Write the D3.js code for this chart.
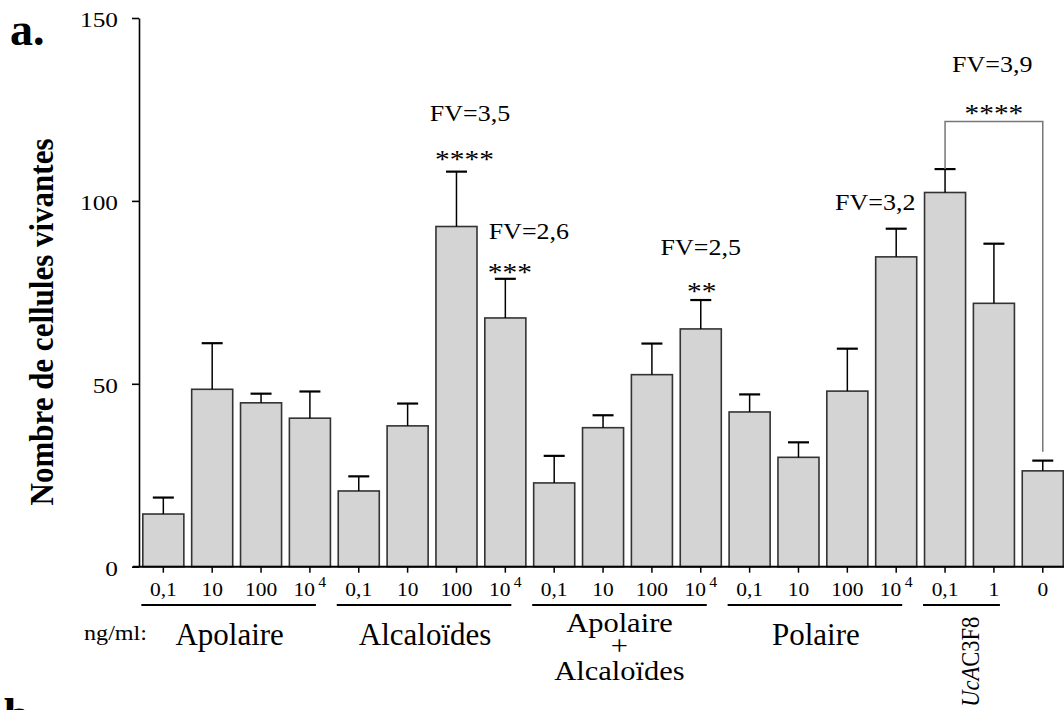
<!DOCTYPE html>
<html>
<head>
<meta charset="utf-8">
<script src="https://cdn.jsdelivr.net/npm/d3@7"></script>
<style>
  body { margin: 0; background: #fff; }
  svg { display: block; font-family: "Liberation Serif", "Times New Roman", serif; }
</style>
</head>
<body>
<svg id="chart" width="1064" height="710"></svg>
<script>
// values
const doses = ["0,1","10","100","10^4", "0,1","10","100","10^4", "0,1","10","100","10^4", "0,1","10","100","10^4", "0,1","1","0"];
const means = [14.4, 48.5, 44.8, 40.6, 20.7, 38.5, 93.0, 68.0, 22.9, 38.0, 52.5, 65.0, 42.3, 29.9, 48.0, 84.7, 102.3, 72.0, 26.2];
const sems  = [4.5, 12.6, 2.5, 7.3, 4.0, 6.1, 15.0, 10.7, 7.4, 3.4, 8.5, 7.9, 4.8, 4.1, 11.6, 7.7, 6.4, 16.3, 2.8];
const yTicks = [0, 50, 100, 150];

const groupNames = ["Apolaire", "Alcaloïdes", "Apolaire|+|Alcaloïdes", "Polaire", "UcAC3F8"];
const groupFirst = [0, 4, 8, 12, 16];
const groupLast  = [3, 7, 11, 15, 17];

const fvLabels   = ["FV=3,5", "FV=2,6", "FV=2,5", "FV=3,2", "FV=3,9"];
const starLabels = ["****", "***", "**", null, "****"];
const annotBars  = [6, 7, 11, 15, -1];   // -1 = the bracket 0,1 UcAC3F8 vs 0
const bracketBars = [16, 18];
const bracketTop = 121.7;
const bracketEnd = 31.4;

const svg = d3.select('#chart');
const FONT = '"Liberation Serif", "Times New Roman", serif';

const y = d3.scaleLinear().domain([0, 150]).range([566.7, 18]);
const x = d3.scaleBand()
    .domain(d3.range(doses.length))
    .range([138.9, 1067.2])
    .paddingInner(0.16)
    .paddingOuter(0.08);
const bw = x.bandwidth();
const cx = i => x(i) + bw / 2;

// text with the slight horizontal stretch seen in the figure
function stext(parent, px, py, str, size, sx, anchor) {
    return parent.append('text')
        .attr('transform', `translate(${px},${py}) scale(${sx},1)`)
        .attr('font-size', size)
        .attr('text-anchor', anchor || 'middle')
        .attr('fill', '#000')
        .text(str);
}

// y axis
const yAxisG = svg.append('g')
    .attr('transform', `translate(139,0)`)
    .call(d3.axisLeft(y).tickValues(yTicks).tickSize(7).tickPadding(14).tickSizeOuter(0))
    .attr('font-family', FONT)
    .attr('font-size', 22);
yAxisG.select('.domain').attr('stroke', '#000').attr('stroke-width', 1.6);
yAxisG.selectAll('.tick line').attr('stroke', '#000').attr('stroke-width', 1.6);
yAxisG.selectAll('.tick text').each(function () {
    const t = d3.select(this);
    const tx = +t.attr('x');
    t.attr('x', 0).attr('dy', '0.38em').attr('fill', '#000')
     .attr('transform', `translate(${tx},0) scale(1.15,1)`);
});

// bars
svg.append('g').selectAll('rect')
    .data(means)
    .enter()
    .append('rect')
        .attr('x', (d, i) => x(i))
        .attr('y', d => y(d))
        .attr('width', bw)
        .attr('height', d => y(0) - y(d))
        .attr('fill', '#d4d4d4')
        .attr('stroke', '#333')
        .attr('stroke-width', 1.6);

// error bars (upper only)
const eg = svg.append('g').attr('stroke', '#000');
means.forEach((m, i) => {
    eg.append('line')
        .attr('x1', cx(i)).attr('x2', cx(i))
        .attr('y1', y(m)).attr('y2', y(m + sems[i]))
        .attr('stroke-width', 1.5);
    eg.append('line')
        .attr('x1', cx(i) - 10.5).attr('x2', cx(i) + 10.5)
        .attr('y1', y(m + sems[i])).attr('y2', y(m + sems[i]))
        .attr('stroke-width', 2.2);
});

// x axis
const xAxisG = svg.append('g')
    .attr('transform', `translate(0,${y(0)})`)
    .call(d3.axisBottom(x).tickSize(6).tickFormat(''));
xAxisG.select('.domain').remove();
xAxisG.selectAll('.tick line').attr('stroke', '#000').attr('stroke-width', 1.5);
xAxisG.append('line')
    .attr('x1', x.range()[0] - 6).attr('x2', 1064)
    .attr('stroke', '#000').attr('stroke-width', 2);

xAxisG.selectAll('.tick').each(function (d) {
    const lab = doses[d];
    const t = d3.select(this).append('text')
        .attr('transform', 'translate(0,29.5) scale(1.13,1)')
        .attr('font-family', FONT)
        .attr('font-size', 19)
        .attr('text-anchor', 'middle')
        .attr('fill', '#000');
    if (lab.includes('^')) {
        const [b, e] = lab.split('^');
        t.append('tspan').text(b);
        t.append('tspan').attr('dx', 3).attr('dy', -9).attr('font-size', 14).text(e);
    } else {
        t.text(lab);
    }
});

// group underlines and labels
const gg = svg.append('g');
groupNames.forEach((name, k) => {
    const x0 = cx(groupFirst[k]) - 22;
    const x1 = cx(groupLast[k]) + 6;
    gg.append('line')
        .attr('x1', x0).attr('x2', x1)
        .attr('y1', 605).attr('y2', 605)
        .attr('stroke', '#000').attr('stroke-width', 2);
    const mid = (cx(groupFirst[k]) + cx(groupLast[k])) / 2;
    if (name.includes('|')) {
        // stacked label kept in one text element
        const parts = name.split('|');
        const t = gg.append('text')
            .attr('transform', `translate(${mid - 8},631.7) scale(1.13,1)`)
            .attr('font-size', 27)
            .attr('text-anchor', 'middle');
        const dys = [0, 22.8, 25.5];
        parts.forEach((p, j) => {
            t.append('tspan').attr('x', 0).attr('dy', dys[j]).text(p);
        });
    } else if (name.startsWith('Uc')) {
        const t = gg.append('text')
            .attr('transform', `translate(${mid + 10},661.7) scale(1.15,1) rotate(-90)`)
            .attr('font-size', 22.5)
            .attr('text-anchor', 'middle');
        t.append('tspan').attr('font-style', 'italic').text('UcA');
        t.append('tspan').text('C3F8');
    } else {
        stext(gg, mid - 7, 645, name, 31, 1.0);
    }
});
stext(svg, 84, 640, 'ng/ml:', 21, 1.15, 'start');

// bracket
const bx0 = cx(bracketBars[0]);
const bx1 = cx(bracketBars[1]);
svg.append('path')
    .attr('d', `M${bx0},${y(means[bracketBars[0]] + sems[bracketBars[0]])}V${y(bracketTop)}H${bx1}V${y(bracketEnd)}`)
    .attr('fill', 'none')
    .attr('stroke', '#777')
    .attr('stroke-width', 1.5);

// annotations: offsets in px from the anchor (bar cap or bracket top)
const starDx = [8, 4.5, 1, 0, 0];
const starDy = [-4, 2, 0, 0, 0];
const fvDx = [13.5, 23.5, 0, -21, -1.7];
const fvDy = [-50.9, -39.5, -45, -18.7, -50];
const ag = svg.append('g');
annotBars.forEach((b, k) => {
    const ax = b < 0 ? (bx0 + bx1) / 2 : cx(b);
    const ay = b < 0 ? y(bracketTop) : y(means[b] + sems[b]);
    if (starLabels[k]) stext(ag, ax + starDx[k], ay + starDy[k], starLabels[k], 26, 1.13);
    stext(ag, ax + fvDx[k], ay + fvDy[k], fvLabels[k], 23, 1.13);
});

// y title
svg.append('text')
    .attr('transform', 'translate(53,322) scale(1.1,1) rotate(-90)')
    .attr('font-size', 31)
    .attr('font-weight', 'bold')
    .attr('text-anchor', 'middle')
    .text('Nombre de cellules vivantes');

// panel letters (the next panel's letter is cut by the bottom edge, as in the figure)
stext(svg, 10, 45, 'a.', 46, 1.0, 'start').attr('font-weight', 'bold');
stext(svg, 4, 730, 'b.', 46, 1.0, 'start').attr('font-weight', 'bold');
</script>
</body>
</html>
